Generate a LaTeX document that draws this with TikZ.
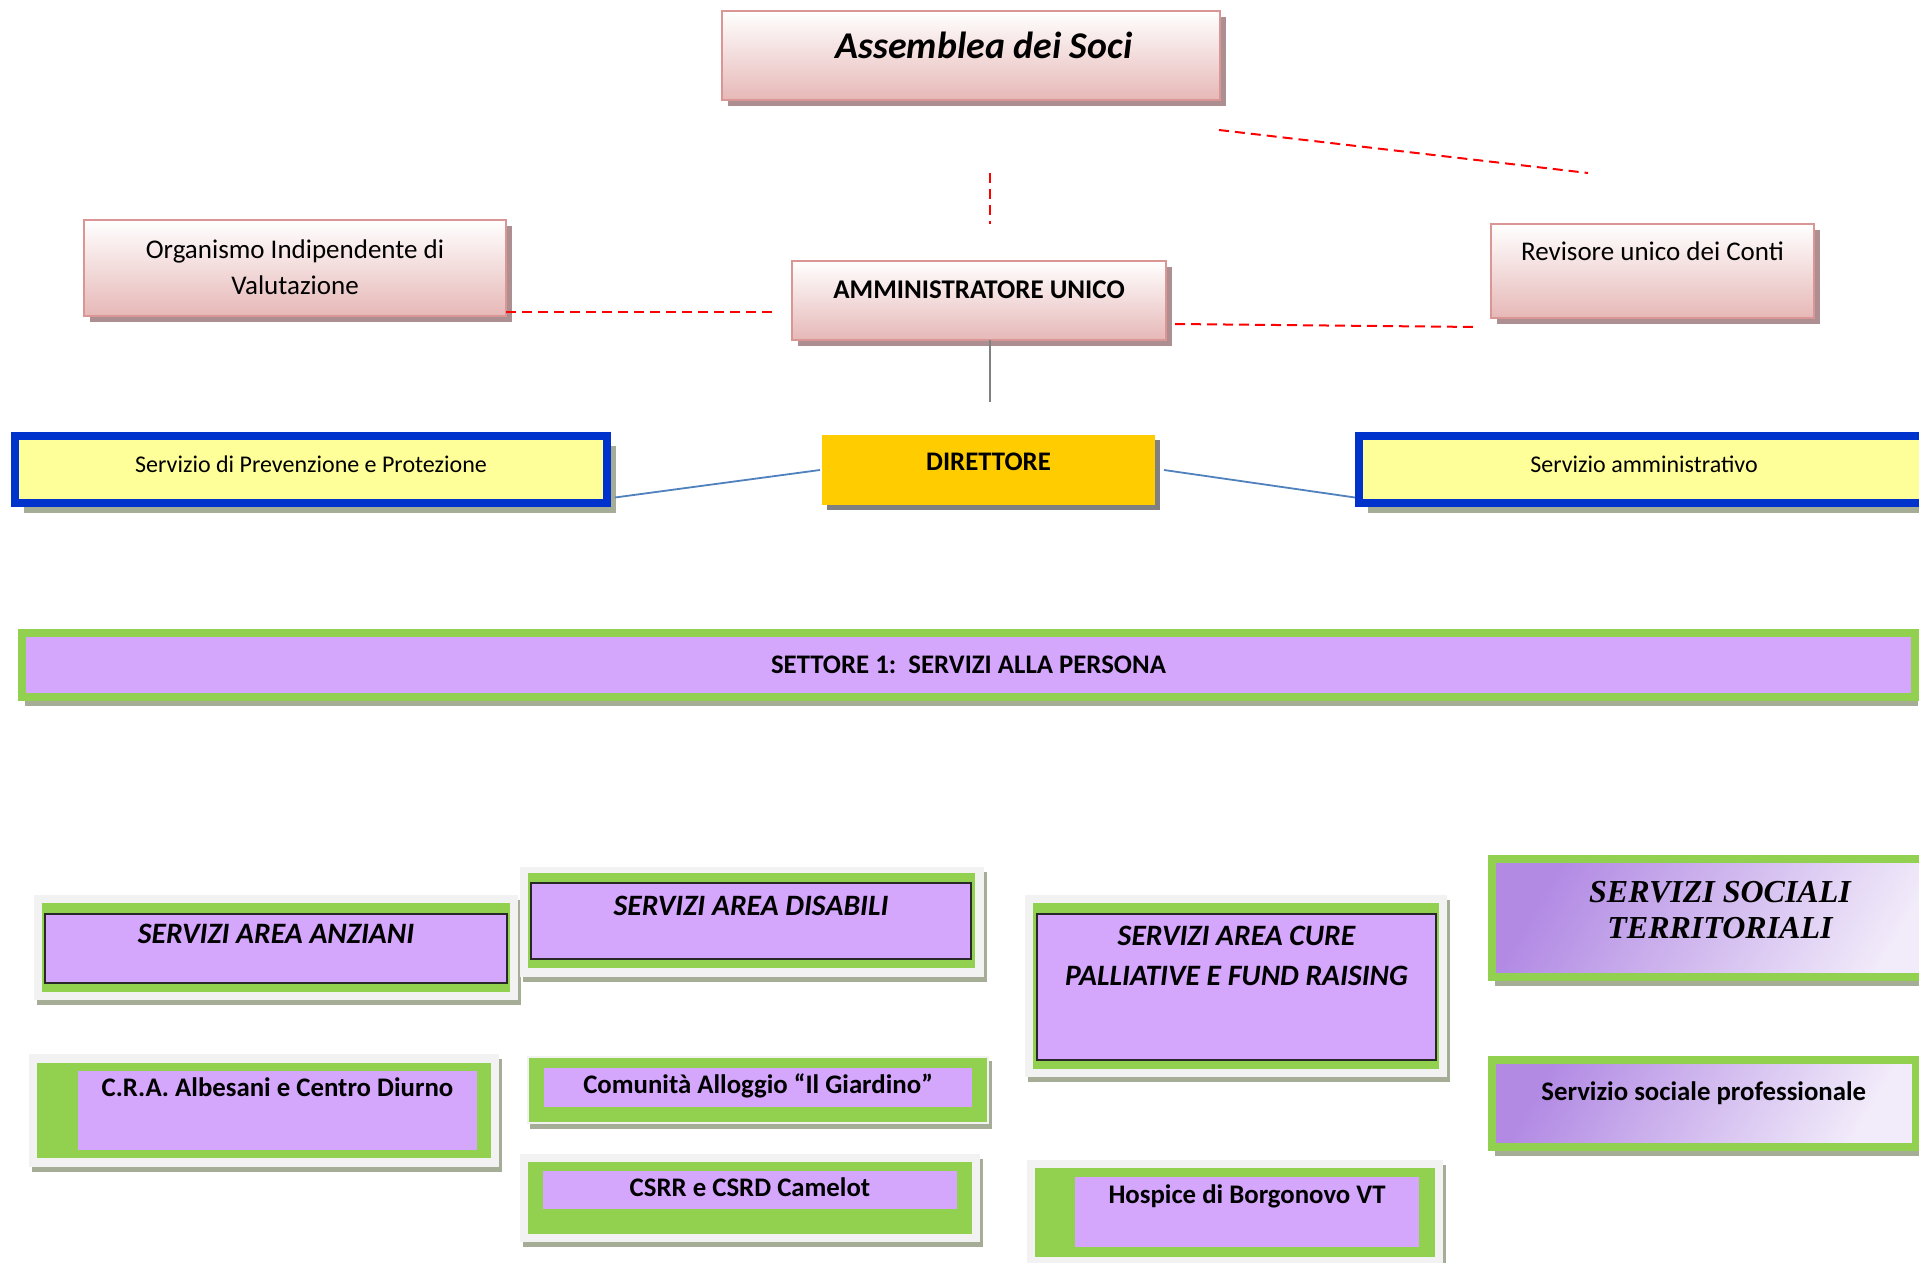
\documentclass[tikz,border=0pt]{standalone}
\usepackage{fontspec}
\setmainfont{Carlito}
\newfontfamily\timesf{Liberation Serif}
\usetikzlibrary{shadows}

\definecolor{pinkf}{RGB}{230,184,183}
\definecolor{pinke}{RGB}{217,150,148}
\definecolor{shpink}{RGB}{173,143,145}
\definecolor{lilac}{RGB}{212,166,252}
\definecolor{grn}{RGB}{146,208,80}
\definecolor{frm}{RGB}{242,242,242}
\definecolor{shg}{RGB}{166,173,150}
\definecolor{blu}{RGB}{0,51,204}
\definecolor{yel}{RGB}{255,255,153}
\definecolor{gold}{RGB}{255,204,0}
\definecolor{lavd}{RGB}{178,138,228}
\definecolor{lavl}{RGB}{242,236,250}
\definecolor{bluel}{RGB}{79,129,189}
\definecolor{dk}{RGB}{40,40,40}

\newcommand{\twoline}[2]{\vtop{\halign{\hfil##\hfil\cr#1\cr#2\cr}}}

\begin{document}
\begin{tikzpicture}[x=0.5pt,y=-0.5pt,
  box/.style={anchor=north west, inner sep=0, outer sep=0},
  pinkbox/.style={box, draw=pinke, line width=1.2pt, top color=white, bottom color=pinkf,
    drop shadow={shadow xshift=3pt, shadow yshift=-3pt, fill=shpink, opacity=1}},
  bluebox/.style={box, draw=blu, line width=4pt, fill=yel, font=\fontsize{12}{14}\selectfont,
    drop shadow={shadow xshift=4.5pt, shadow yshift=-5pt, fill=shg, opacity=1}},
  greenbox/.style={box, draw=grn, line width=4pt,
    drop shadow={shadow xshift=1.5pt, shadow yshift=-4.5pt, fill=shg, opacity=1}},
  lilbox/.style={box, fill=lilac, font=\bfseries\fontsize{13.4}{16}\selectfont},
  reddash/.style={red, line width=1pt, dash pattern=on 5pt off 3pt},
  greyline/.style={gray, line width=1.3pt},
  blueline/.style={bluel, line width=0.9pt}]
\fill[white] (0,0) rectangle (1919,1263);
\useasboundingbox (0,0) rectangle (1919,1263);

\node[pinkbox, minimum width=249pt, text height=24pt, text depth=20.5pt,
  font=\bfseries\itshape\fontsize{18.9}{20}\selectfont] (asm) at (722,11) {\hspace{13pt}Assemblea dei Soci};
\node[pinkbox, minimum width=211pt, text height=19pt, text depth=29pt,
  font=\fontsize{13.5}{18}\selectfont] (org) at (84,220) {\twoline{Organismo Indipendente di}{Valutazione}};
\node[pinkbox, minimum width=187pt, text height=19pt, text depth=20.5pt,
  font=\bfseries\fontsize{13.5}{16}\selectfont] (amm) at (792,261) {AMMINISTRATORE UNICO};
\node[pinkbox, minimum width=161.5pt, text height=18.5pt, text depth=28.5pt,
  font=\fontsize{13.5}{16}\selectfont] (rev) at (1491,224) {Revisore unico dei Conti};

\node[bluebox, minimum width=296pt, text height=18pt, text depth=15.5pt] (spp) at (15,436) {Servizio di Prevenzione e Protezione};
\node[bluebox, minimum width=285pt, text height=18pt, text depth=15.5pt] (sam) at (1359,436) {Servizio amministrativo};
\node[box, fill=gold, minimum width=166.5pt, text height=17.5pt, text depth=17.5pt,
  font=\bfseries\fontsize{13.4}{16}\selectfont,
  drop shadow={shadow xshift=2.5pt, shadow yshift=-2.5pt, fill=gray, opacity=1}] (dir) at (822,435) {DIRETTORE};

\node[greenbox, fill=lilac, minimum width=946.5pt, text height=20pt, text depth=12pt,
  font=\bfseries\fontsize{13.4}{16}\selectfont] (set) at (22,633) {SETTORE 1:\ \ SERVIZI ALLA PERSONA};

\foreach \a/\b/\c/\d in {34/895/518/1000, 520/867/984/977, 1025/895/1447/1077, 29/1054/499/1167,
  527/1056/989/1124, 520/1154/980/1242, 1027/1160/1443/1275}{
  \fill[shg] ({\a+3},{\b+5}) rectangle ({\c+3},{\d+5});
  \fill[frm] (\a,\b) rectangle (\c,\d);
}
\foreach \a/\b/\c/\d in {42/903/510/992, 528/873/975/968, 1033/903/1439/1069, 37/1063/491/1158,
  529/1058/987/1122, 528/1162/972/1234, 1035/1168/1435/1257}
  \fill[grn] (\a,\b) rectangle (\c,\d);

\node[lilbox, draw=dk, line width=0.75pt, minimum width=231pt, text height=14.5pt, text depth=20pt,
  font=\bfseries\itshape\fontsize{14.8}{16}\selectfont] (anz) at (45,914) {SERVIZI AREA ANZIANI};
\node[lilbox, draw=dk, line width=0.75pt, minimum width=220pt, text height=16pt, text depth=22pt,
  font=\bfseries\itshape\fontsize{14.8}{16}\selectfont] (dis) at (531,883) {SERVIZI AREA DISABILI};
\node[lilbox, draw=dk, line width=0.75pt, minimum width=199.5pt, text height=15.5pt, text depth=57.5pt,
  font=\bfseries\itshape\fontsize{14.8}{20}\selectfont] (cur) at (1037,914) {\twoline{SERVIZI AREA CURE}{PALLIATIVE E FUND RAISING}};
\node[lilbox, minimum width=199.5pt, text height=12.5pt, text depth=27pt] (cra) at (78,1071) {C.R.A. Albesani e Centro Diurno};
\node[lilbox, minimum width=214pt, text height=12.5pt, text depth=7pt] (com) at (544,1068) {Comunità Alloggio “Il Giardino”};
\node[lilbox, minimum width=207pt, text height=12.5pt, text depth=6.5pt] (csr) at (543,1171) {CSRR e CSRD Camelot};
\node[lilbox, minimum width=172pt, text height=13pt, text depth=22pt] (hos) at (1075,1177) {Hospice di Borgonovo VT};

\node[greenbox, top color=lavd, bottom color=lavl, shading angle=60, minimum width=228.5pt,
  text height=21.5pt, text depth=37.5pt,
  font=\timesf\bfseries\itshape\fontsize{16}{18}\selectfont] (soc) at (1491.5,859) {\twoline{SERVIZI SOCIALI}{TERRITORIALI}};
\node[greenbox, top color=lavd, bottom color=lavl, shading angle=60, minimum width=212.25pt,
  text height=20pt, text depth=23.5pt,
  font=\bfseries\fontsize{13.4}{16}\selectfont] (ssp) at (1491.5,1060) {Servizio sociale professionale};

\coordinate (asmr) at (1219,130);
\coordinate (revup) at (1588,173);
\coordinate (asmb) at (990,173);
\coordinate (ammup) at (990,224);
\coordinate (orgr) at (775,312);
\coordinate (ammr) at (1175,324);
\coordinate (revl) at (1478,327);
\coordinate (dirup) at (990,402);

\draw[reddash] (asmr) -- (revup);
\draw[reddash] (asmb) -- (ammup);
\draw[reddash] ([yshift=2pt]org.south east) -- (orgr);
\draw[reddash] (ammr) -- (revl);
\draw[greyline] ([xshift=5.5pt]amm.south) -- (dirup);
\draw[blueline] ([xshift=4pt,yshift=-14pt]spp.east) -- ([xshift=-1pt]dir.west);
\draw[blueline] ([xshift=4.5pt]dir.east) -- ([xshift=-2pt,yshift=-14pt]sam.west);
\end{tikzpicture}
\end{document}
